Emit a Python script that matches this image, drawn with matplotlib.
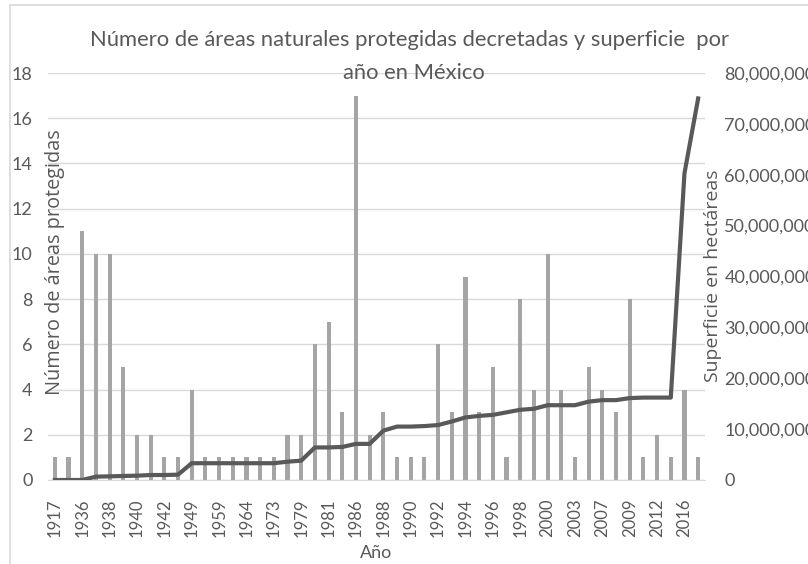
import matplotlib
matplotlib.use('Agg')
import matplotlib.pyplot as plt
from matplotlib.patches import Rectangle
from matplotlib.ticker import FuncFormatter

plt.rcParams['font.family'] = ['Lato', 'DejaVu Sans']

years = ['1917', '1926', '1936', '1937', '1938', '1939', '1940', '1941',
         '1942', '1945', '1949', '1952', '1959', '1961', '1964', '1972',
         '1973', '1978', '1979', '1980', '1981', '1982', '1986', '1987',
         '1988', '1989', '1990', '1991', '1992', '1993', '1994', '1995',
         '1996', '1997', '1998', '1999', '2000', '2002', '2003', '2006',
         '2007', '2008', '2009', '2010', '2012', '2015', '2016', '2018']

num_areas = [1, 1, 11, 10, 10, 5, 2, 2,
             1, 1, 4, 1, 1, 1, 1, 1,
             1, 2, 2, 6, 7, 3, 17, 2,
             3, 1, 1, 1, 6, 3, 9, 3,
             5, 1, 8, 4, 10, 4, 1, 5,
             4, 3, 8, 1, 2, 1, 4, 1]

# superficie acumulada (ha)
superficie = [0, 0, 0, 0.66e6, 0.72e6, 0.79e6, 0.85e6, 0.98e6,
              0.98e6, 1.05e6, 3.3e6, 3.3e6, 3.3e6, 3.3e6, 3.3e6, 3.3e6,
              3.3e6, 3.6e6, 3.8e6, 6.4e6, 6.4e6, 6.5e6, 7.1e6, 7.1e6,
              9.7e6, 10.5e6, 10.5e6, 10.6e6, 10.8e6, 11.5e6, 12.3e6, 12.6e6,
              12.8e6, 13.3e6, 13.8e6, 14.0e6, 14.7e6, 14.7e6, 14.7e6, 15.4e6,
              15.7e6, 15.7e6, 16.1e6, 16.2e6, 16.2e6, 16.2e6, 60.3e6, 75.0e6]

left_ticks = list(range(0, 19, 2))
right_ticks = [i * 10000000 for i in range(9)]

W, H = 808, 564
grey_txt = '#595959'
fig = plt.figure(figsize=(W / 100, H / 100), dpi=100)
fig.patches.append(Rectangle((10 / W, -0.1), 2, (H - 5) / H + 0.1,
                             transform=fig.transFigure, fill=False,
                             edgecolor='#D9D9D9', linewidth=1.2))

ax = fig.add_axes([48 / W, (H - 480) / H, (705 - 48) / W, (480 - 73) / H])
x = list(range(len(years)))
ax.bar(x, num_areas, width=0.3, color='#A5A5A5', zorder=2)
ax.set_xlim(-0.5, len(years) - 0.5)
ax.set_ylim(0, 18)
ax.set_yticks(left_ticks)
ax.yaxis.grid(True, color='#D9D9D9', linewidth=1)
ax.set_axisbelow(True)
for s in ['top', 'right', 'left']:
    ax.spines[s].set_visible(False)
ax.spines['bottom'].set_color('#D9D9D9')
ax.set_xticks(x[::2])
ax.set_xticklabels(years[::2], rotation=90)
ax.tick_params(axis='x', length=0, pad=13, labelsize=12, colors=grey_txt)
ax.tick_params(axis='y', length=0, pad=11, labelsize=13, colors=grey_txt)

ax2 = ax.twinx()
ax2.plot(x, superficie, color='#595959', linewidth=3, solid_joinstyle='round',
         zorder=3)
ax2.set_ylim(0, 80000000)
ax2.set_yticks(right_ticks)
ax2.yaxis.set_major_formatter(FuncFormatter(lambda v, p: '{:,.0f}'.format(v)))
ax2.tick_params(axis='y', length=0, pad=14, labelsize=13, colors=grey_txt)
for s in ax2.spines.values():
    s.set_visible(False)

fig.text(410 / W, 1 - 40 / H,
         'Número de áreas naturales protegidas decretadas y superficie  por',
         ha='center', va='center', fontsize=15.8, color=grey_txt)
fig.text(414 / W, 1 - 73 / H, 'año en México',
         ha='center', va='center', fontsize=15.8, color=grey_txt)
fig.text(55 / W, 1 - 262 / H, 'Número de áreas protegidas', rotation=90,
         ha='center', va='center', fontsize=14.3, color=grey_txt,
         family=['Open Sans', 'DejaVu Sans'])
fig.text(713 / W, 1 - 276 / H, 'Superficie en hectáreas', rotation=90,
         ha='center', va='center', fontsize=14, color=grey_txt,
         family=['Open Sans', 'DejaVu Sans'])
fig.text(376 / W, 1 - 553 / H, 'Año', ha='center', va='center',
         fontsize=13, color=grey_txt)

fig.savefig('out.png', dpi=100)
